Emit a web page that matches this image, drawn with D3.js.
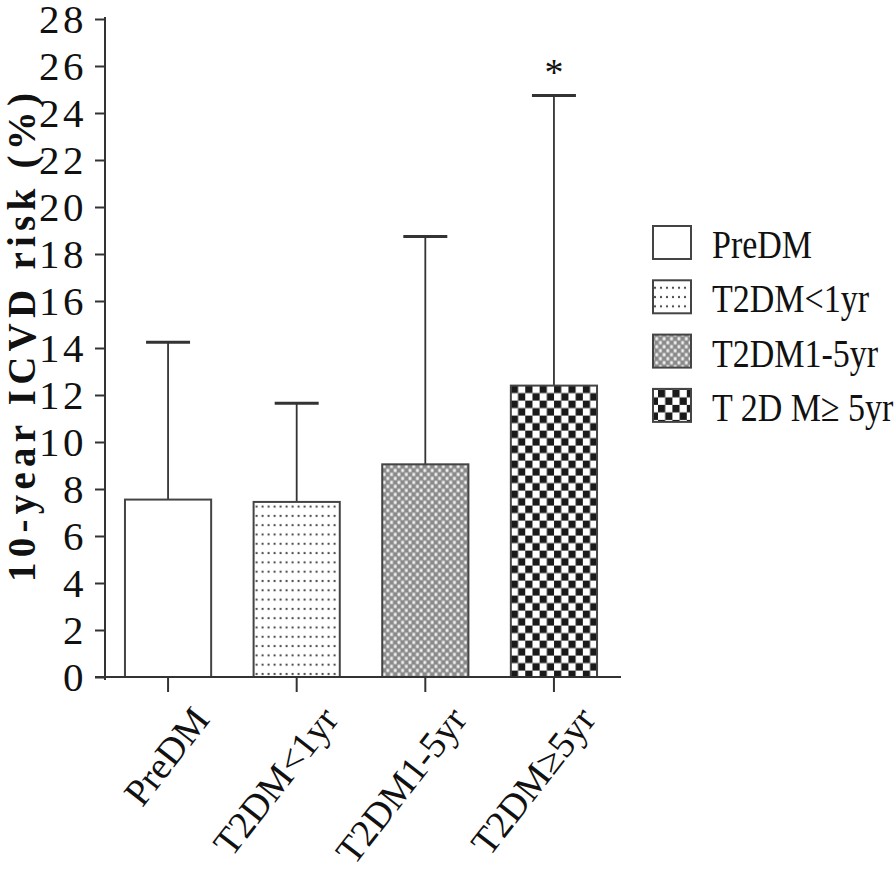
<!DOCTYPE html>
<html>
<head>
<meta charset="utf-8">
<script src="https://cdn.jsdelivr.net/npm/d3@7"></script>
<style>
  html, body { margin: 0; padding: 0; background: #fff; }
  svg { display: block; }
  text { font-family: "Liberation Serif", "Times New Roman", serif; fill: #111; }
</style>
</head>
<body>
<svg id="chart" width="896" height="877"></svg>
<script>
// ---- data ----
const categories = ["PreDM", "T2DM<1yr", "T2DM1-5yr", "T2DM\u22655yr"];
const legendLabels = ["PreDM", "T2DM<1yr", "T2DM1-5yr", "T 2D M\u2265 5yr"];
const means = [7.55, 7.45, 9.05, 12.4];
const errUpper = [14.25, 11.65, 18.75, 24.75];
const yTicks = [0, 2, 4, 6, 8, 10, 12, 14, 16, 18, 20, 22, 24, 26, 28];
const yTitle = "10-year ICVD risk (%)";
const sigMarks = ["", "", "", "*"];
const patterns = ["none", "dots", "fine", "check"];

const svg = d3.select("#chart");
const ink = "#333";

// ---- patterns ----
const defs = svg.append("defs");
const pDots = defs.append("pattern").attr("id", "dots").attr("patternUnits", "userSpaceOnUse")
  .attr("width", 6).attr("height", 9.3);
pDots.append("rect").attr("width", 6).attr("height", 9.3).attr("fill", "#fff");
pDots.append("circle").attr("cx", 3).attr("cy", 4.6).attr("r", 1.1).attr("fill", "#444");

const pFine = defs.append("pattern").attr("id", "fine").attr("patternUnits", "userSpaceOnUse")
  .attr("width", 7.4).attr("height", 8);
pFine.append("rect").attr("width", 7.4).attr("height", 8).attr("fill", "#8a8a8a");
pFine.append("rect").attr("x", 0.5).attr("y", 0.5).attr("width", 2.8).attr("height", 3.2).attr("fill", "#f2f2f2");
pFine.append("rect").attr("x", 4.2).attr("y", 4.5).attr("width", 2.8).attr("height", 3.2).attr("fill", "#f2f2f2");

const pCheck = defs.append("pattern").attr("id", "check").attr("patternUnits", "userSpaceOnUse")
  .attr("width", 14.4).attr("height", 15);
pCheck.append("rect").attr("width", 14.4).attr("height", 15).attr("fill", "#fff");
pCheck.append("rect").attr("x", 0).attr("y", 0).attr("width", 7.2).attr("height", 7.5).attr("fill", "#1a1a1a");
pCheck.append("rect").attr("x", 7.2).attr("y", 7.5).attr("width", 7.2).attr("height", 7.5).attr("fill", "#1a1a1a");

const fillFor = p => p === "none" ? "#fff" : `url(#${p})`;

// ---- scales ----
const y = d3.scaleLinear().domain([0, 28]).range([677, 19]);
const x = d3.scaleBand().domain(categories).range([104, 618]).paddingInner(0.33).paddingOuter(0.163);

// ---- bars ----
const g = svg.append("g");
categories.forEach((c, i) => {
  const bx = x(c), bw = x.bandwidth();
  const cx = bx + bw / 2;
  g.append("line").attr("x1", cx).attr("x2", cx).attr("y1", y(means[i])).attr("y2", y(errUpper[i]))
    .attr("stroke", ink).attr("stroke-width", 1.8);
  g.append("line").attr("x1", cx - 22).attr("x2", cx + 22).attr("y1", y(errUpper[i])).attr("y2", y(errUpper[i]))
    .attr("stroke", ink).attr("stroke-width", 3);
  const pid = patterns[i];
  if (pid !== "none") {
    d3.select("#" + pid).attr("x", bx).attr("y", y(means[i]));
  }
  g.append("rect").attr("x", bx).attr("y", y(means[i])).attr("width", bw).attr("height", y(0) - y(means[i]))
    .attr("fill", fillFor(pid)).attr("stroke", "#444").attr("stroke-width", 2);
  if (sigMarks[i]) {
    g.append("text").attr("x", cx).attr("y", y(errUpper[i]) - 10).attr("text-anchor", "middle")
      .attr("font-size", 38).text(sigMarks[i]);
  }
});

// ---- axes ----
const yAxis = svg.append("g").attr("transform", "translate(105,0)")
  .call(d3.axisLeft(y).tickValues(yTicks).tickSize(10).tickPadding(14).tickSizeOuter(0));
yAxis.select(".domain").attr("stroke", ink).attr("stroke-width", 2).attr("d", "M0,17V680");
yAxis.selectAll(".tick line").attr("stroke", ink).attr("stroke-width", 2);
yAxis.selectAll(".tick text").attr("font-family", "Liberation Serif").attr("font-size", 41)
  .attr("letter-spacing", 3.5).attr("fill", "#111").attr("dy", "0.34em").attr("x", -18);

const xAxis = svg.append("g").attr("transform", "translate(0,677)")
  .call(d3.axisBottom(x).tickSize(15).tickSizeOuter(0).tickFormat(""));
xAxis.select(".domain").attr("stroke", ink).attr("stroke-width", 2).attr("d", "M95,0H621");
xAxis.selectAll(".tick line").attr("stroke", ink).attr("stroke-width", 2);

// x labels
categories.forEach((c, i) => {
  const cx = x(c) + x.bandwidth() / 2;
  svg.append("text")
    .attr("transform", `translate(${cx + 43},${720}) rotate(-52)`)
    .attr("text-anchor", "end").attr("font-size", 38).text(c);
});

// y title
svg.append("text")
  .attr("transform", `translate(35,${(93 + 582) / 2}) rotate(-90)`)
  .attr("text-anchor", "middle").attr("font-size", 39).attr("font-weight", "bold")
  .attr("textLength", 489).attr("lengthAdjust", "spacing")
  .text(yTitle);

// ---- legend ----
const lg = svg.append("g").attr("transform", "translate(653,226)");
legendLabels.forEach((l, i) => {
  const ly = i * 54.3;
  const pid = patterns[i];
  let f = fillFor(pid);
  if (pid !== "none") {
    defs.select("#" + pid).clone(true).attr("id", pid + "L")
      .attr("x", 653).attr("y", 226 + ly);
    f = `url(#${pid}L)`;
  }
  lg.append("rect").attr("x", 0).attr("y", ly).attr("width", 38).attr("height", 33)
    .attr("fill", f).attr("stroke", "#444").attr("stroke-width", 2);
  lg.append("text").attr("transform", `translate(59,${ly + 32}) scale(0.85,1)`)
    .attr("font-size", 40).text(l);
});
</script>
</body>
</html>
